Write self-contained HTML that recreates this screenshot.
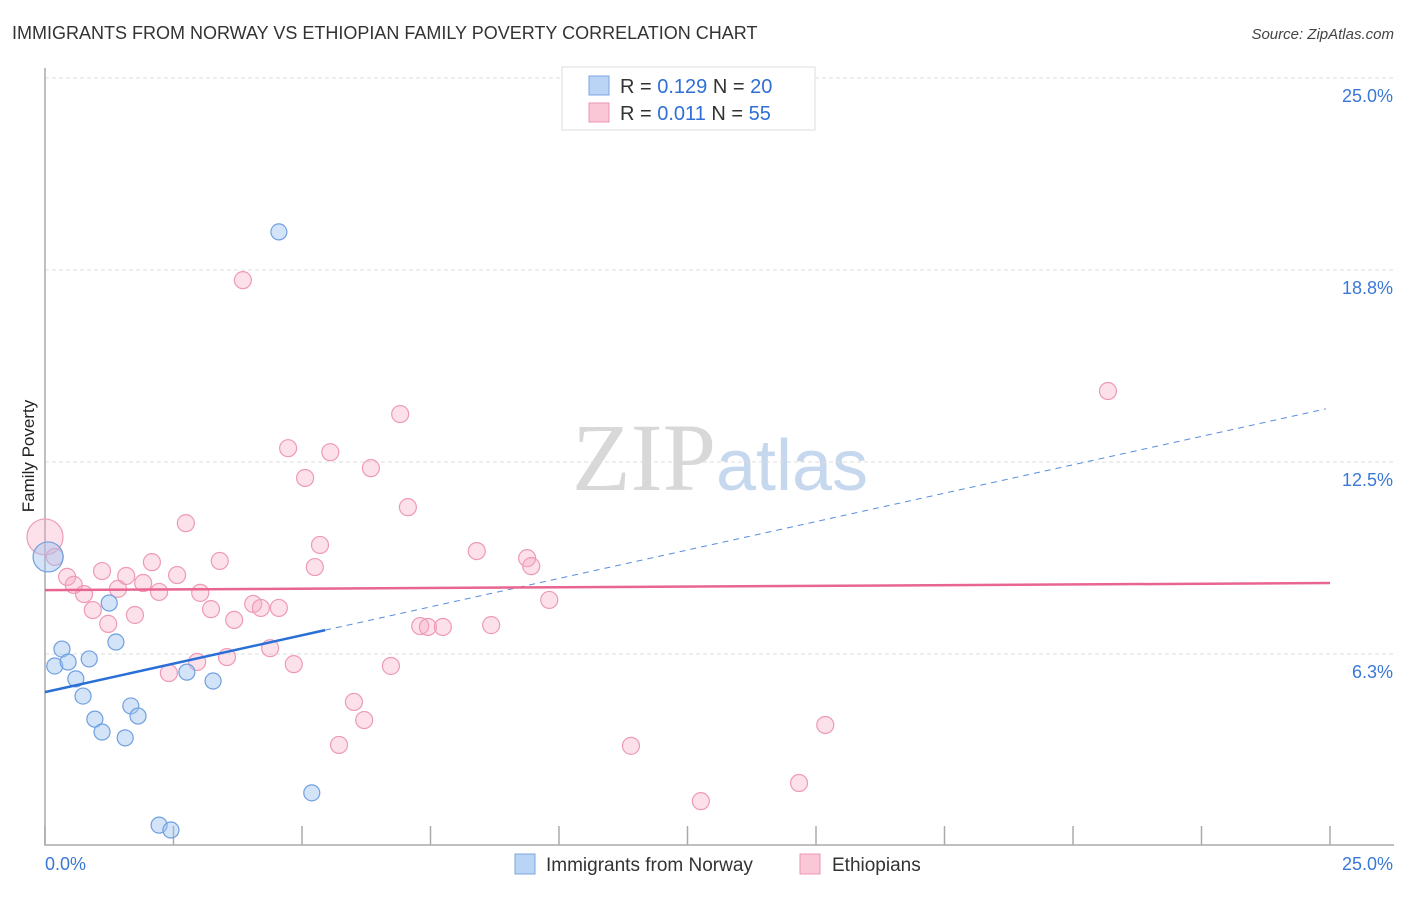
<!DOCTYPE html>
<html><head><meta charset="utf-8"><style>
body{margin:0;background:#fff;font-family:"Liberation Sans",sans-serif;}
svg text{font-family:"Liberation Sans",sans-serif;}
</style></head><body>
<svg id="chart" width="1406" height="892" xmlns="http://www.w3.org/2000/svg">
<text x="12" y="39" font-size="18" fill="#333">IMMIGRANTS FROM NORWAY VS ETHIOPIAN FAMILY POVERTY CORRELATION CHART</text>
<text x="1394" y="39" font-size="15" fill="#444" text-anchor="end" font-style="italic">Source: ZipAtlas.com</text>
<text transform="translate(34,456) rotate(-90)" font-size="17" fill="#222" text-anchor="middle">Family Poverty</text>
<text x="720" y="490" font-size="96" text-anchor="middle" fill="#d8d8d8" font-family="Liberation Serif"><tspan font-family="Liberation Serif">ZIP</tspan><tspan fill="#c6d8ee" font-family="Liberation Sans" font-size="72">atlas</tspan></text>
<g id="grid"></g>
<g id="marks"></g>
<g>
<rect x="562" y="67" width="253" height="63" fill="#fff" stroke="#ddd"/>
<rect x="589" y="76" width="20" height="19" fill="#b9d4f5" stroke="#7aa6e0"/>
<rect x="589" y="103" width="20" height="19" fill="#f9c7d6" stroke="#ec94b0"/>
<text x="620" y="93" font-size="20" fill="#333">R = <tspan fill="#2f6fd6">0.129</tspan>  N = <tspan fill="#2f6fd6">20</tspan></text>
<text x="620" y="120" font-size="20" fill="#333">R = <tspan fill="#2f6fd6"> 0.011</tspan>  N = <tspan fill="#2f6fd6">55</tspan></text>
</g>
<g>
<rect x="515" y="854" width="20" height="20" fill="#b9d4f5" stroke="#7aa6e0"/>
<text x="546" y="871" font-size="19" fill="#333">Immigrants from Norway</text>
<rect x="800" y="854" width="20" height="20" fill="#f9c7d6" stroke="#ec94b0"/>
<text x="832" y="871" font-size="19" fill="#333">Ethiopians</text>
</g>
</svg>
<script>
const blueX=[4.55,0.06,0.19,0.33,0.45,0.60,0.74,0.86,0.97,1.11,1.25,1.38,1.56,1.67,1.81,2.22,2.45,2.76,3.27,5.19];
const blueY=[19.99,9.41,5.86,6.41,5.99,5.44,4.88,6.09,4.13,3.71,7.91,6.64,3.52,4.56,4.23,0.68,0.52,5.66,5.37,1.73];
const blueR=[8,15,8,8,8,8,8,8,8,8,8,8,8,8,8,8,8,8,8,8];
const pinkX=[0,0.19,0.43,0.56,0.76,0.93,1.11,1.23,1.42,1.58,1.75,1.91,2.08,2.22,2.41,2.57,2.74,2.96,3.02,3.23,3.40,3.54,3.68,3.85,4.05,4.20,4.38,4.55,4.73,4.84,5.06,5.25,5.35,5.55,5.72,6.01,6.21,6.34,6.73,6.91,7.06,7.30,7.45,7.74,8.40,8.68,9.38,9.46,9.81,11.40,11.69,12.76,14.67,15.18,20.68];
const pinkY=[10.06,9.41,8.76,8.50,8.20,7.68,8.95,7.23,8.37,8.79,7.52,8.56,9.24,8.27,5.63,8.82,10.51,5.99,8.24,7.71,9.28,6.15,7.36,18.42,7.88,7.75,6.44,7.75,12.95,5.92,11.98,9.08,9.80,12.82,3.29,4.69,4.10,12.30,5.86,14.06,11.03,7.16,7.13,7.13,9.60,7.19,9.37,9.11,8.01,3.26,24.80,1.46,2.05,3.94,14.81];
const yTicks=[6.3,12.5,18.8,25.0];
const blueTrend=[5.01,14.26];
const pinkTrend=[8.33,8.56];
const X=v=>45+v/25*1285, Y=v=>846-v/25*768;
const NS="http://www.w3.org/2000/svg";
const grid=document.getElementById('grid'), marks=document.getElementById('marks');
function mk(tag,attrs,parent){const e=document.createElementNS(NS,tag);for(const k in attrs)e.setAttribute(k,attrs[k]);parent.appendChild(e);return e;}
yTicks.forEach(t=>{
 const yy=Y(t===6.3?6.25:t===18.8?18.75:t);
 const l=mk('line',{x1:45,x2:1394,y1:yy,y2:yy,stroke:'#ddd','stroke-dasharray':'4,3'},grid);
 
 
 const tx=mk('text',{x:1393,y:yy+24,'font-size':18,fill:'#3a78d6','text-anchor':'end'},grid);
 tx.textContent=t.toFixed(1)+'%';
 
 
});
const ax=mk('path',{d:'M45 68 V845 H1394',fill:'none',stroke:'#aaa','stroke-width':1.5},grid);


for(let i=0;i<=10;i++){const xx=X(i*2.5);const t=mk('line',{x1:xx,x2:xx,y1:826,y2:845,stroke:'#aaa','stroke-width':1.5},grid);
 
 }
[[0,'0.0%','start',45],[25,'25.0%','end',1393]].forEach(a=>{const t=mk('text',{x:a[3],y:870,'font-size':18,fill:'#3a78d6','text-anchor':a[2]},grid);t.textContent=a[1];
 
 });
pinkX.forEach((v,i)=>{const c=mk('circle',{cx:X(v),cy:Y(pinkY[i]),r:i===0?18:8.5,fill:'rgba(246,170,195,0.35)',stroke:'#ee9ab5','stroke-width':1.2},marks);
 
 });
blueX.forEach((v,i)=>{const c=mk('circle',{cx:X(v),cy:Y(blueY[i]),r:blueR[i],fill:'rgba(160,196,240,0.45)',stroke:'#6f9fe0','stroke-width':1.2},marks);
 
 });
const slope=(blueTrend[1]-blueTrend[0])/25, xs=5.45;
const bl=mk('line',{x1:X(0),y1:Y(blueTrend[0]),x2:X(xs),y2:Y(blueTrend[0]+slope*xs),stroke:'#2a6fd6','stroke-width':2.5},marks);


const bd=mk('line',{x1:X(xs),y1:Y(blueTrend[0]+slope*xs),x2:X(24.92),y2:Y(blueTrend[0]+slope*24.92),stroke:'#5b8fdc','stroke-width':1,'stroke-dasharray':'6,5'},marks);


const pl=mk('line',{x1:X(0),y1:Y(pinkTrend[0]),x2:X(25),y2:Y(pinkTrend[1]),stroke:'#e8658f','stroke-width':2.5},marks);


</script>
</body></html>
